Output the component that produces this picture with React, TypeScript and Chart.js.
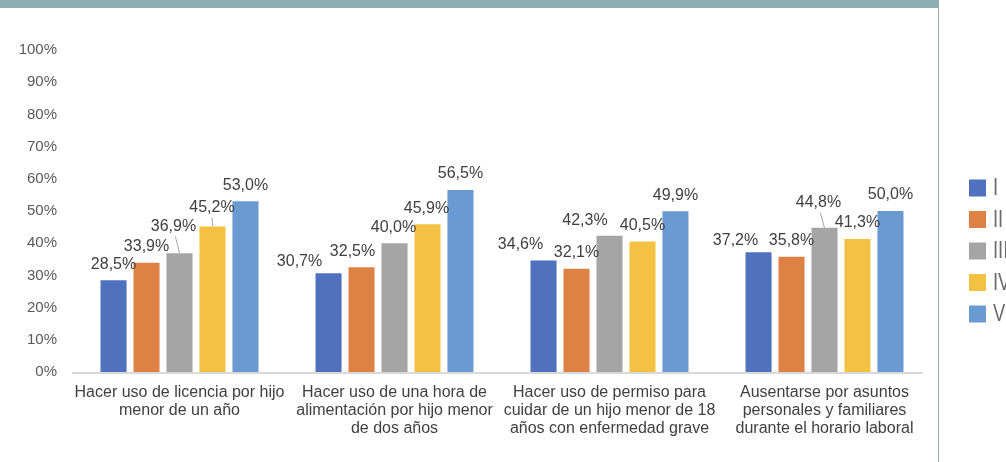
import React, { useEffect, useRef } from "react";
import { Chart, registerables } from "chart.js";

Chart.register(...registerables);

const categories: string[][] = [
  ["Hacer uso de licencia por hijo", "menor de un año"],
  ["Hacer uso de una hora de", "alimentación por hijo menor", "de dos años"],
  ["Hacer uso de permiso para", "cuidar de un hijo menor de 18", "años con enfermedad grave"],
  ["Ausentarse por asuntos", "personales y familiares", "durante el horario laboral"],
];

const seriesNames = ["I", "II", "III", "IV", "V"];
const serieI = [28.5, 30.7, 34.6, 37.2];
const serieII = [33.9, 32.5, 32.1, 35.8];
const serieIII = [36.9, 40.0, 42.3, 44.8];
const serieIV = [45.2, 45.9, 40.5, 41.3];
const serieV = [53.0, 56.5, 49.9, 50.0];
const seriesValues = [serieI, serieII, serieIII, serieIV, serieV];

const yMin = 0;
const yMax = 100;
const yStep = 10;

const colors = ["#4F71BE", "#DD8244", "#A5A5A5", "#F3C242", "#6A9AD2"];

const FONT = "'Liberation Sans', Arial, sans-serif";

// label placement tweaks (style only): [series][category]
type Off = { dx: number; dy: number; leader?: boolean };
const N: Off = { dx: 0, dy: -16 };
const labelOffsets: Off[][] = [
  [N, { dx: -29, dy: -12 }, { dx: -23, dy: -16 }, { dx: -23, dy: -12 }],
  [N, { dx: -9, dy: -16 }, N, N],
  [{ dx: -6, dy: -27, leader: true }, { dx: -1, dy: -16 }, { dx: -24.5, dy: -15 }, { dx: -6, dy: -25, leader: true }],
  [{ dx: -0.5, dy: -19, leader: true }, { dx: -1, dy: -16 }, N, N],
  [N, N, N, N],
];

const fmt = (v: number) => v.toFixed(1).replace(".", ",") + "%";

const labelPlugin = {
  id: "customLabels",
  beforeDatasetsDraw(chart: any) {
    const ctx = chart.ctx;
    const a = chart.chartArea;
    ctx.save();
    ctx.strokeStyle = "#D9D9D9";
    ctx.lineWidth = 2;
    ctx.beginPath();
    ctx.moveTo(a.left, a.bottom + 1);
    ctx.lineTo(a.right - 9, a.bottom + 1);
    ctx.stroke();
    ctx.restore();
  },
  afterDatasetsDraw(chart: any) {
    const ctx = chart.ctx;
    ctx.save();
    ctx.font = `16px ${FONT}`;
    ctx.fillStyle = "#404040";
    ctx.textAlign = "center";
    ctx.textBaseline = "middle";
    chart.data.datasets.forEach((ds: any, si: number) => {
      const meta = chart.getDatasetMeta(si);
      meta.data.forEach((bar: any, ci: number) => {
        const off = labelOffsets[si][ci];
        const cx = bar.x + off.dx;
        const cy = bar.y + off.dy;
        ctx.fillText(fmt(ds.data[ci]), cx, cy);
        if (off.leader) {
          ctx.strokeStyle = "#A6A6A6";
          ctx.lineWidth = 1;
          ctx.beginPath();
          ctx.moveTo(cx + (bar.x - cx) * 0.3, cy + 10);
          ctx.lineTo(bar.x, bar.y);
          ctx.stroke();
        }
      });
    });
    // legend
    seriesNames.forEach((name, i) => {
      const yc = 188 + i * 31.5;
      ctx.fillStyle = colors[i];
      ctx.fillRect(969, yc - 8.5, 17, 17);
      ctx.save();
      ctx.translate(993, yc + 1);
      ctx.scale(0.8, 1);
      ctx.textAlign = "left";
      ctx.font = `23px ${FONT}`;
      ctx.fillStyle = "#6B6B6B";
      ctx.fillText(name, 0, 0);
      ctx.restore();
    });
    ctx.restore();
  },
};

export default function App() {
  const ref = useRef<HTMLCanvasElement | null>(null);

  useEffect(() => {
    document.body.style.margin = "0";
    if (!ref.current) return;
    const chart = new Chart(ref.current, {
      type: "bar",
      data: {
        labels: categories,
        datasets: seriesNames.map((name, i) => ({
          label: name,
          data: seriesValues[i],
          backgroundColor: colors[i],
          borderWidth: 0,
          barPercentage: 0.79,
          categoryPercentage: 0.767,
        })),
      },
      options: {
        animation: false,
        responsive: false,
        devicePixelRatio: 1,
        layout: { padding: { left: 0, right: 74, top: 50, bottom: 0 } },
        plugins: {
          legend: { display: false },
          tooltip: { enabled: false },
        },
        scales: {
          x: {
            grid: { display: false, drawTicks: false },
            border: { display: false },
            ticks: {
              color: "#404040",
              font: { family: FONT, size: 16, lineHeight: 1.125 },
              padding: 12,
              maxRotation: 0,
              autoSkip: false,
            },
            afterFit: (s: any) => {
              s.height = 90;
            },
          },
          y: {
            min: yMin,
            max: yMax,
            ticks: {
              stepSize: yStep,
              color: "#595959",
              font: { family: FONT, size: 15 },
              padding: 15,
              callback: (v: any) => v + "%",
            },
            grid: { display: false, drawTicks: false },
            border: { display: false },
            afterFit: (s: any) => {
              s.width = 72;
            },
          },
        },
      },
      plugins: [labelPlugin],
    });
    return () => chart.destroy();
  }, []);

  return (
    <div style={{ position: "fixed", left: 0, top: 0, width: 1006, height: 462, background: "#FFFFFF" }}>
      <canvas ref={ref} width={1006} height={462} style={{ position: "absolute", left: 0, top: 0 }} />
      <div style={{ position: "absolute", left: 0, top: 0, width: 939, height: 8, background: "#8EADB2" }} />
      <div style={{ position: "absolute", left: 938, top: 0, width: 1, height: 462, background: "#8EADB2" }} />
    </div>
  );
}
